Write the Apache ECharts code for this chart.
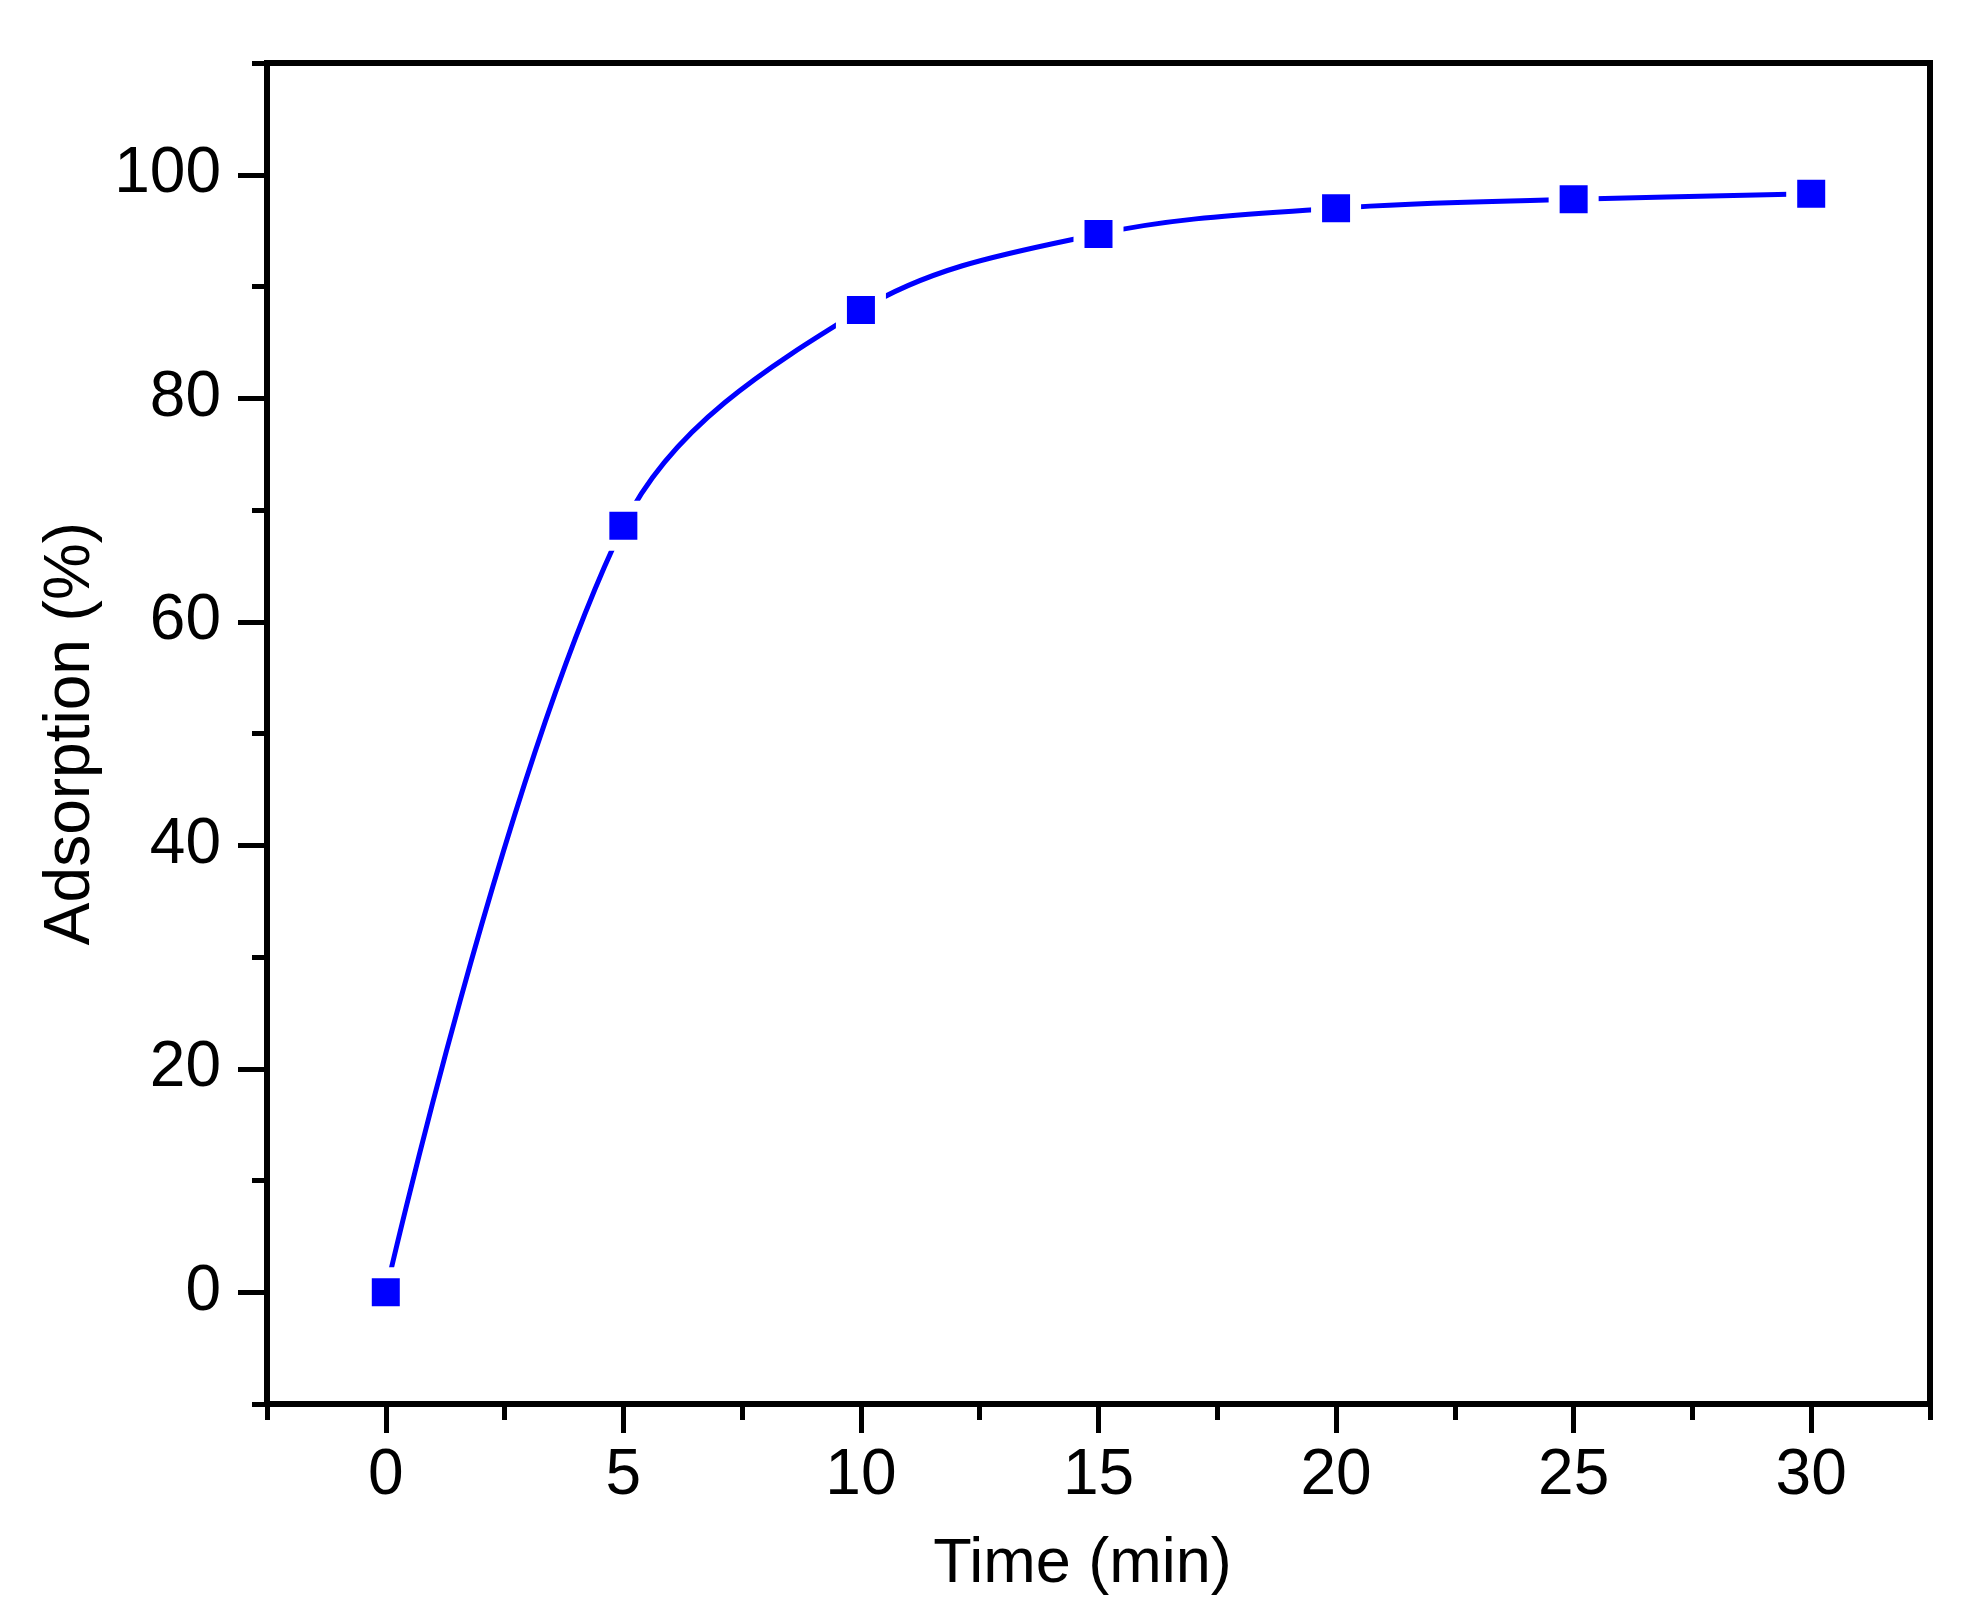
<!DOCTYPE html>
<html>
<head>
<meta charset="utf-8">
<style>
  html, body { margin: 0; padding: 0; background: #fff; }
  #chart { width: 1980px; height: 1623px; }
</style>
<script src="https://cdn.jsdelivr.net/npm/echarts@6/dist/echarts.min.js"></script>
</head>
<body>
<div id="chart"></div>
<script>
const timeMin = [0, 5, 10, 15, 20, 25, 30];
const adsorption = [0, 68.6, 87.9, 94.7, 97.0, 97.8, 98.3];
const xMajorTicks = [0, 5, 10, 15, 20, 25, 30];
const xMinorTicks = [-2.5, 2.5, 7.5, 12.5, 17.5, 22.5, 27.5, 32.5];
const yMajorTicks = [0, 20, 40, 60, 80, 100];
const yMinorTicks = [-10, 10, 30, 50, 70, 90, 110];

const font = { fontFamily: '"Liberation Sans", Arial, sans-serif', color: '#000' };
const axisLine = { show: true, onZero: false, lineStyle: { color: '#000', width: 6 } };
const tickStyle = { color: '#000', width: 5 };

const chart = echarts.init(document.getElementById('chart'));
chart.setOption({
  backgroundColor: '#fff',
  animation: false,
  grid: { left: 267, right: 50, top: 63, bottom: 219, show: true, borderColor: '#000', borderWidth: 6 },
  xAxis: [
    {
      type: 'value', min: -2.5, max: 32.5, position: 'bottom',
      name: 'Time (min)', nameLocation: 'middle', nameGap: 129,
      nameTextStyle: { ...font, fontSize: 63, padding: [0, 32, 0, 0] },
      axisLine,
      axisTick: { show: true, inside: false, length: 29, customValues: xMajorTicks, lineStyle: tickStyle },
      axisLabel: { ...font, fontSize: 64, margin: 40, customValues: xMajorTicks },
      splitLine: { show: false }
    },
    {
      type: 'value', min: -2.5, max: 32.5, position: 'bottom',
      axisLine: { show: false, onZero: false },
      axisTick: { show: true, length: 16, customValues: xMinorTicks, lineStyle: tickStyle },
      axisLabel: { show: false },
      splitLine: { show: false }
    }
  ],
  yAxis: [
    {
      type: 'value', min: -10, max: 110, position: 'left',
      name: 'Adsorption (%)', nameLocation: 'middle', nameGap: 139,
      nameTextStyle: { ...font, fontSize: 64 },
      axisLine,
      axisTick: { show: true, inside: false, length: 29, customValues: yMajorTicks, lineStyle: tickStyle },
      axisLabel: { ...font, fontSize: 64, margin: 46, customValues: yMajorTicks },
      splitLine: { show: false }
    },
    {
      type: 'value', min: -10, max: 110, position: 'left',
      axisLine: { show: false, onZero: false },
      axisTick: { show: true, length: 15, customValues: yMinorTicks, lineStyle: tickStyle },
      axisLabel: { show: false },
      splitLine: { show: false }
    }
  ],
  series: [{
    type: 'line',
    xAxisIndex: 0, yAxisIndex: 0,
    data: timeMin.map((t, i) => [t, adsorption[i]]),
    smooth: 0.35,
    symbol: 'rect',
    symbolSize: 39,
    itemStyle: { color: '#0000ff', borderColor: '#fff', borderWidth: 11 },
    lineStyle: { color: '#0000ff', width: 5 }
  }]
});
</script>
</body>
</html>
